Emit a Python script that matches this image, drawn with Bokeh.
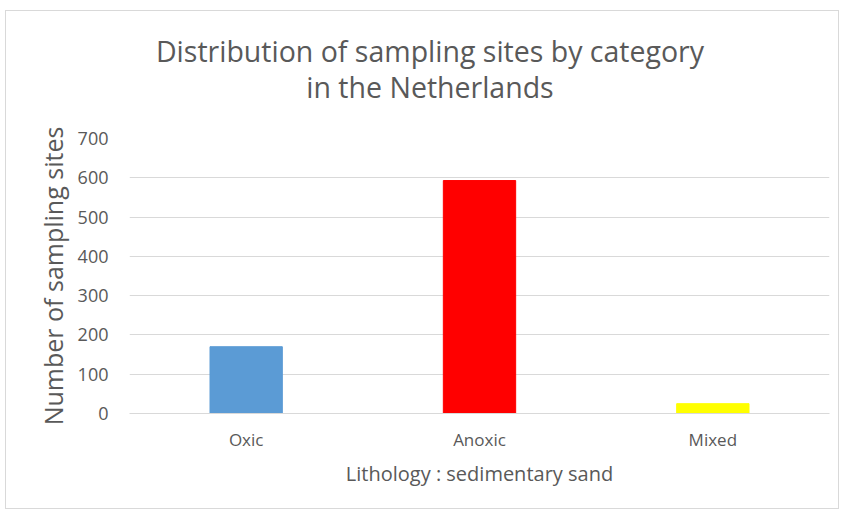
from bokeh.plotting import figure
from bokeh.models import ColumnDataSource, FixedTicker, Div
from bokeh.layouts import column
from bokeh.embed import file_html
from bokeh.resources import INLINE

# Data
categories = ["Oxic", "Anoxic", "Mixed"]
site_counts = [170, 593, 25]
bar_colors = ["#5b9bd5", "#ff0000", "#ffff00"]
y_ticks = [0, 100, 200, 300, 400, 500, 600, 700]
title_lines = ["Distribution of sampling sites by category", "in the Netherlands"]

FONT = "Open Sans"
GRAY = "#595959"

source = ColumnDataSource(dict(cat=categories, count=site_counts, color=bar_colors))

# two-line heading above the chart
heading = Div(
    text=(
        f'<div style="width:848px;text-align:center;font-family:\'{FONT}\';'
        f'font-size:28.5px;line-height:36px;color:{GRAY};padding-top:22px;">'
        + "<br>".join(title_lines)
        + "</div>"
    ),
    width=832,
    height=110,
    margin=0,
)

p = figure(
    x_range=categories,
    y_range=(0, 700),
    width=832,
    height=387,
    output_backend="svg",
    toolbar_location=None,
    min_border_left=123,
    min_border_right=9,
    min_border_top=17,
    min_border_bottom=95,
    margin=0,
)
p.outline_line_color = None
p.background_fill_color = "white"
p.border_fill_color = "white"

p.vbar(x="cat", top="count", width=0.31, color="color", source=source)

# grid
p.xgrid.grid_line_color = None
p.ygrid.grid_line_color = "#d9d9d9"
p.ygrid.grid_line_width = 1
p.yaxis.ticker = FixedTicker(ticks=y_ticks)

# axes
for ax in (p.xaxis, p.yaxis):
    ax.major_tick_line_color = None
    ax.minor_tick_line_color = None
    ax.axis_line_color = None
    ax.major_label_text_font = FONT
    ax.major_label_text_color = GRAY
    ax.axis_label_text_font = FONT
    ax.axis_label_text_color = GRAY
    ax.axis_label_text_font_style = "normal"

p.xaxis.axis_line_color = "#d9d9d9"
p.yaxis.major_label_text_font_size = "18px"
p.yaxis.major_label_standoff = 15
p.yaxis.axis_label = "Number of sampling sites"
p.yaxis.axis_label_text_font_size = "25px"
p.yaxis.axis_label_standoff = 5

p.xaxis.major_label_text_font_size = "17px"
p.xaxis.major_label_standoff = 8
p.xaxis.axis_label = "Lithology : sedimentary sand"
p.xaxis.axis_label_text_font_size = "20px"
p.xaxis.axis_label_standoff = 6

layout = column(heading, p, spacing=0)
layout.margin = (10, 0, 0, 5)
layout.styles = {"border": "1px solid #d9d9d9", "background-color": "white"}

open("out.html", "w").write(file_html(layout, INLINE))
